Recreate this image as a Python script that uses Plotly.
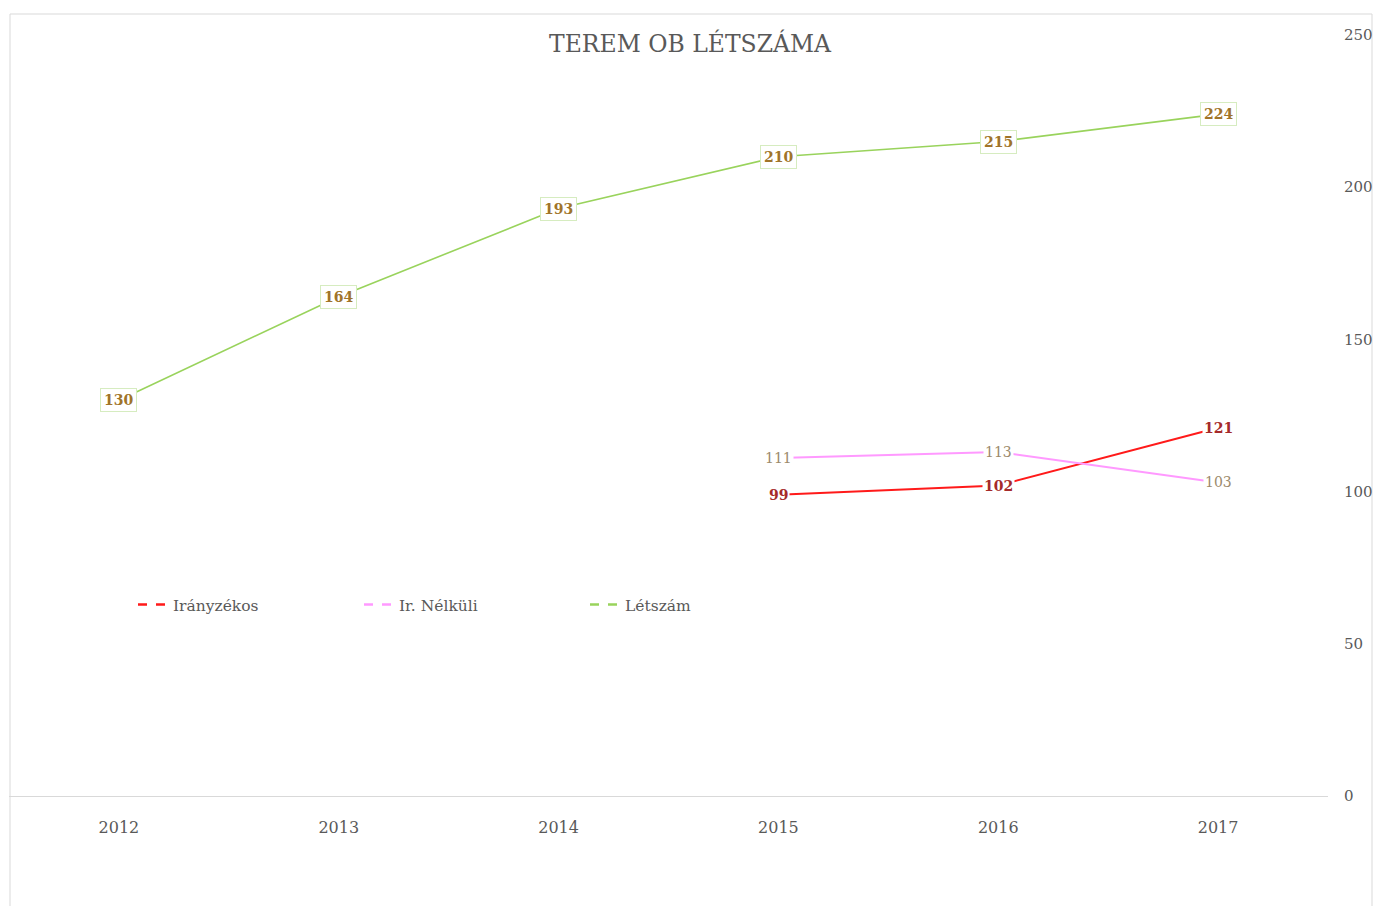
import plotly.graph_objects as go

years = ["2012", "2013", "2014", "2015", "2016", "2017"]
letszam = [130, 164, 193, 210, 215, 224]
iranyzekos = [None, None, None, 99, 102, 121]
ir_nelkuli = [None, None, None, 111, 113, 103]
y_ticks = [0, 50, 100, 150, 200, 250]

FONT = "DejaVu Serif"
W, H = 1375, 906
L, R, T, B = 9, 47, 35, 110
pw, ph = W - L - R, H - T - B

series = [("Irányzékos", iranyzekos, "#ff1a1a", 2),
          ("Ir. Nélküli", ir_nelkuli, "#ff99ff", 2),
          ("Létszám", letszam, "#99d35c", 1.6)]

fig = go.Figure()
# legend-only entries with dashed symbols
for name, vals, col, w in series:
    fig.add_trace(go.Scatter(x=years, y=[None] * len(years), name=name, mode="lines",
                             line=dict(color=col, width=2.5, dash="dash")))
# the visible solid lines
for name, vals, col, w in series:
    fig.add_trace(go.Scatter(x=years, y=vals, mode="lines", showlegend=False,
                             line=dict(color=col, width=w), hoverinfo="skip"))

anns = []
for i, v in enumerate(letszam):
    anns.append(dict(x=i, y=v, xref="x", yref="y", text="<b>%d</b>" % v, showarrow=False,
                     font=dict(family=FONT, size=14, color="#a0742a"),
                     bgcolor="white", bordercolor="#d6ecc0", borderwidth=1, borderpad=3))
for i, v in enumerate(ir_nelkuli):
    if v is not None:
        anns.append(dict(x=i, y=v, xref="x", yref="y", text=str(v), showarrow=False,
                         font=dict(family=FONT, size=14, color="#9c8a6c"),
                         bgcolor="white", borderpad=1))
for i, v in enumerate(iranyzekos):
    if v is not None:
        anns.append(dict(x=i, y=v, xref="x", yref="y", text="<b>%d</b>" % v, showarrow=False,
                         font=dict(family=FONT, size=14, color="#a52a2a"),
                         bgcolor="white", borderpad=1))

fig.add_shape(type="rect", xref="paper", yref="paper",
              x0=(10 - L) / pw, x1=(1372 - L) / pw,
              y0=(H - B - 915) / ph, y1=(H - B - 14) / ph,
              line=dict(color="#d9d9d9", width=1), layer="below")

fig.update_layout(
    width=W, height=H,
    margin=dict(l=L, r=R, t=T, b=B, autoexpand=False),
    paper_bgcolor="white", plot_bgcolor="white",
    title=dict(text="TEREM OB LÉTSZÁMA", x=690 / W, xanchor="center",
               y=1 - 44 / H, yanchor="middle", yref="container",
               font=dict(family=FONT, size=23.5, color="#595959")),
    font=dict(family=FONT, color="#595959"),
    xaxis=dict(type="category", range=[-0.5, 5.5], showgrid=False, automargin=False,
               showline=True, linecolor="#d9d9d9", linewidth=1, ticks="",
               tickfont=dict(family=FONT, size=16, color="#595959"),
               ticklabelstandoff=17),
    yaxis=dict(range=[0, 250], side="right", tickvals=y_ticks, showgrid=False,
               automargin=False, zeroline=False, showline=False, ticks="",
               tickfont=dict(family=FONT, size=15, color="#595959"),
               ticklabelstandoff=15),
    legend=dict(orientation="h", x=(133 - L) / pw, xanchor="left",
                y=(H - B - 605) / ph, yanchor="middle",
                entrywidth=181, entrywidthmode="pixels",
                font=dict(family=FONT, size=15.5, color="#595959"),
                itemclick=False, itemdoubleclick=False, bgcolor="rgba(0,0,0,0)"),
    annotations=anns,
    showlegend=True,
)
fig.write_html("out.html", config={"displayModeBar": False},
               post_script="document.body.style.margin='0';document.body.style.padding='0';"
                           "document.body.style.overflow='hidden';"
                           "document.documentElement.style.overflow='hidden';")
